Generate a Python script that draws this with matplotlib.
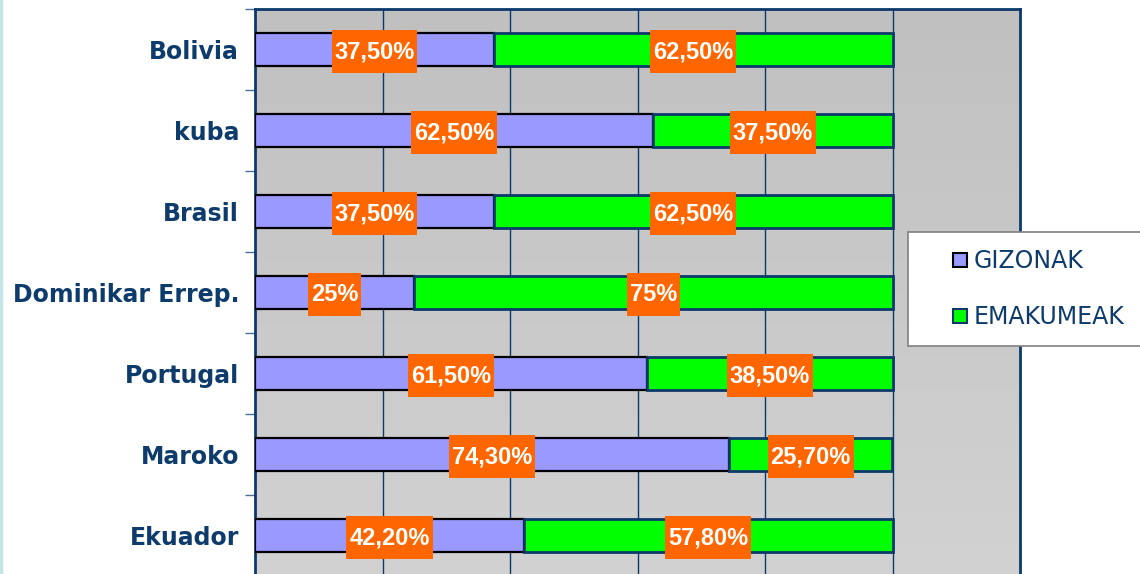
import numpy as np
import matplotlib
matplotlib.use("Agg")
import matplotlib.pyplot as plt
from matplotlib.lines import Line2D
from matplotlib.path import Path
from matplotlib import font_manager as fm

# Data (top to bottom)
countries = ["Bolivia", "kuba", "Brasil", "Dominikar Errep.", "Portugal", "Maroko", "Ekuador"]
gizonak = [37.5, 62.5, 37.5, 25.0, 61.5, 74.3, 42.2]
emakumeak = [62.5, 37.5, 62.5, 75.0, 38.5, 25.7, 57.8]
series_names = ["GIZONAK", "EMAKUMEAK"]

navy = "#0B3A6A"
purple = "#9999FF"
green = "#00FF00"
orange = "#FF6600"

# plain (not narrow) Liberation Sans Bold for the value labels
label_font = None
for f in fm.fontManager.ttflist:
    if f.name == "Liberation Sans" and f.weight in (700, "bold") and f.style == "normal" \
            and "Narrow" not in f.fname:
        label_font = fm.FontProperties(fname=f.fname, size=17)
        break
if label_font is None:
    label_font = fm.FontProperties(family="Liberation Sans", weight="bold", size=17)


def fmt(v):
    if float(v).is_integer():
        return f"{int(v)}%"
    return f"{v:.2f}%".replace(".", ",")


# orange label box: tight left/right, tall top/bottom
def label_box(x0, y0, width, height, mutation_size):
    padx = 0.12 * mutation_size
    cy = y0 + height / 2
    half = 0.92 * mutation_size
    return Path.unit_rectangle().transformed(
        matplotlib.transforms.Affine2D().scale(width + 2 * padx, 2 * half)
        .translate(x0 - padx, cy - half))


fig = plt.figure(figsize=(11.4, 5.74), dpi=100)
ax = fig.add_axes([255 / 1140, -2 / 574, (1020 - 255) / 1140, (574 - 9 + 2) / 574])

# grey gradient background
grad = np.linspace(0, 1, 256).reshape(-1, 1)
cmap = matplotlib.colors.LinearSegmentedColormap.from_list("bg", ["#C0C0C0", "#D2D2D2"])
ax.imshow(grad, extent=[0, 1, 0, 1], transform=ax.transAxes, aspect="auto",
          cmap=cmap, zorder=0, origin="upper")

y = np.arange(len(countries))
h = 0.41
ax.barh(y, gizonak, height=h, color=purple, edgecolor="black", linewidth=1.6, zorder=3)
ax.barh(y, emakumeak, left=gizonak, height=h, color=green, edgecolor=navy, linewidth=2, zorder=3)

for i in range(len(countries)):
    g, e = gizonak[i], emakumeak[i]
    for xc, v in ((g / 2, g), (g + e / 2, e)):
        ax.text(xc, i + 0.025, fmt(v), ha="center", va="center", color="white",
                fontproperties=label_font, zorder=5,
                bbox=dict(boxstyle=label_box, facecolor=orange, edgecolor="none"))

ax.set_xlim(0, 120)
ax.set_ylim(len(countries) - 0.5, -0.5)
ax.set_xticks([20, 40, 60, 80, 100])
ax.tick_params(axis="x", length=0, labelbottom=False)
ax.grid(axis="x", color=navy, linewidth=1, zorder=1)
ax.set_axisbelow(True)

ax.set_yticks(y)
ax.set_yticklabels(countries, fontsize=17, fontweight="bold", color="#0D3B6B",
                   family="DejaVu Sans")
ax.tick_params(axis="y", which="major", length=0, pad=11.5)
ax.set_yticks(np.arange(len(countries) + 1) - 0.5, minor=True)
ax.tick_params(axis="y", which="minor", length=7, width=1, color="#4A6E96")

for s in ("left", "right", "top"):
    ax.spines[s].set_color(navy)
    ax.spines[s].set_linewidth(2)
ax.spines["bottom"].set_visible(False)

handles = [
    Line2D([], [], linestyle="none", marker="s", markersize=9.4,
           markerfacecolor=purple, markeredgecolor="black", markeredgewidth=1.5),
    Line2D([], [], linestyle="none", marker="s", markersize=9.4,
           markerfacecolor=green, markeredgecolor=navy, markeredgewidth=1.5),
]
leg = fig.legend(handles, series_names, loc="upper left",
                 bbox_to_anchor=(908 / 1140, 1 - 232 / 574), bbox_transform=fig.transFigure,
                 frameon=True, fancybox=False, framealpha=1, edgecolor="#808080",
                 fontsize=17, borderpad=0.72, labelspacing=1.35, handlelength=2.95,
                 handletextpad=-0.9, borderaxespad=0, numpoints=1)
leg.get_frame().set_linewidth(1.2)
for t in leg.get_texts():
    t.set_color("#0D3B6B")

# light cyan edge on the far left
fig.add_artist(Line2D([0.0012, 0.0012], [0, 1], transform=fig.transFigure,
                      color="#C4E4E8", linewidth=2.5))

fig.savefig("out.png", dpi=100)
